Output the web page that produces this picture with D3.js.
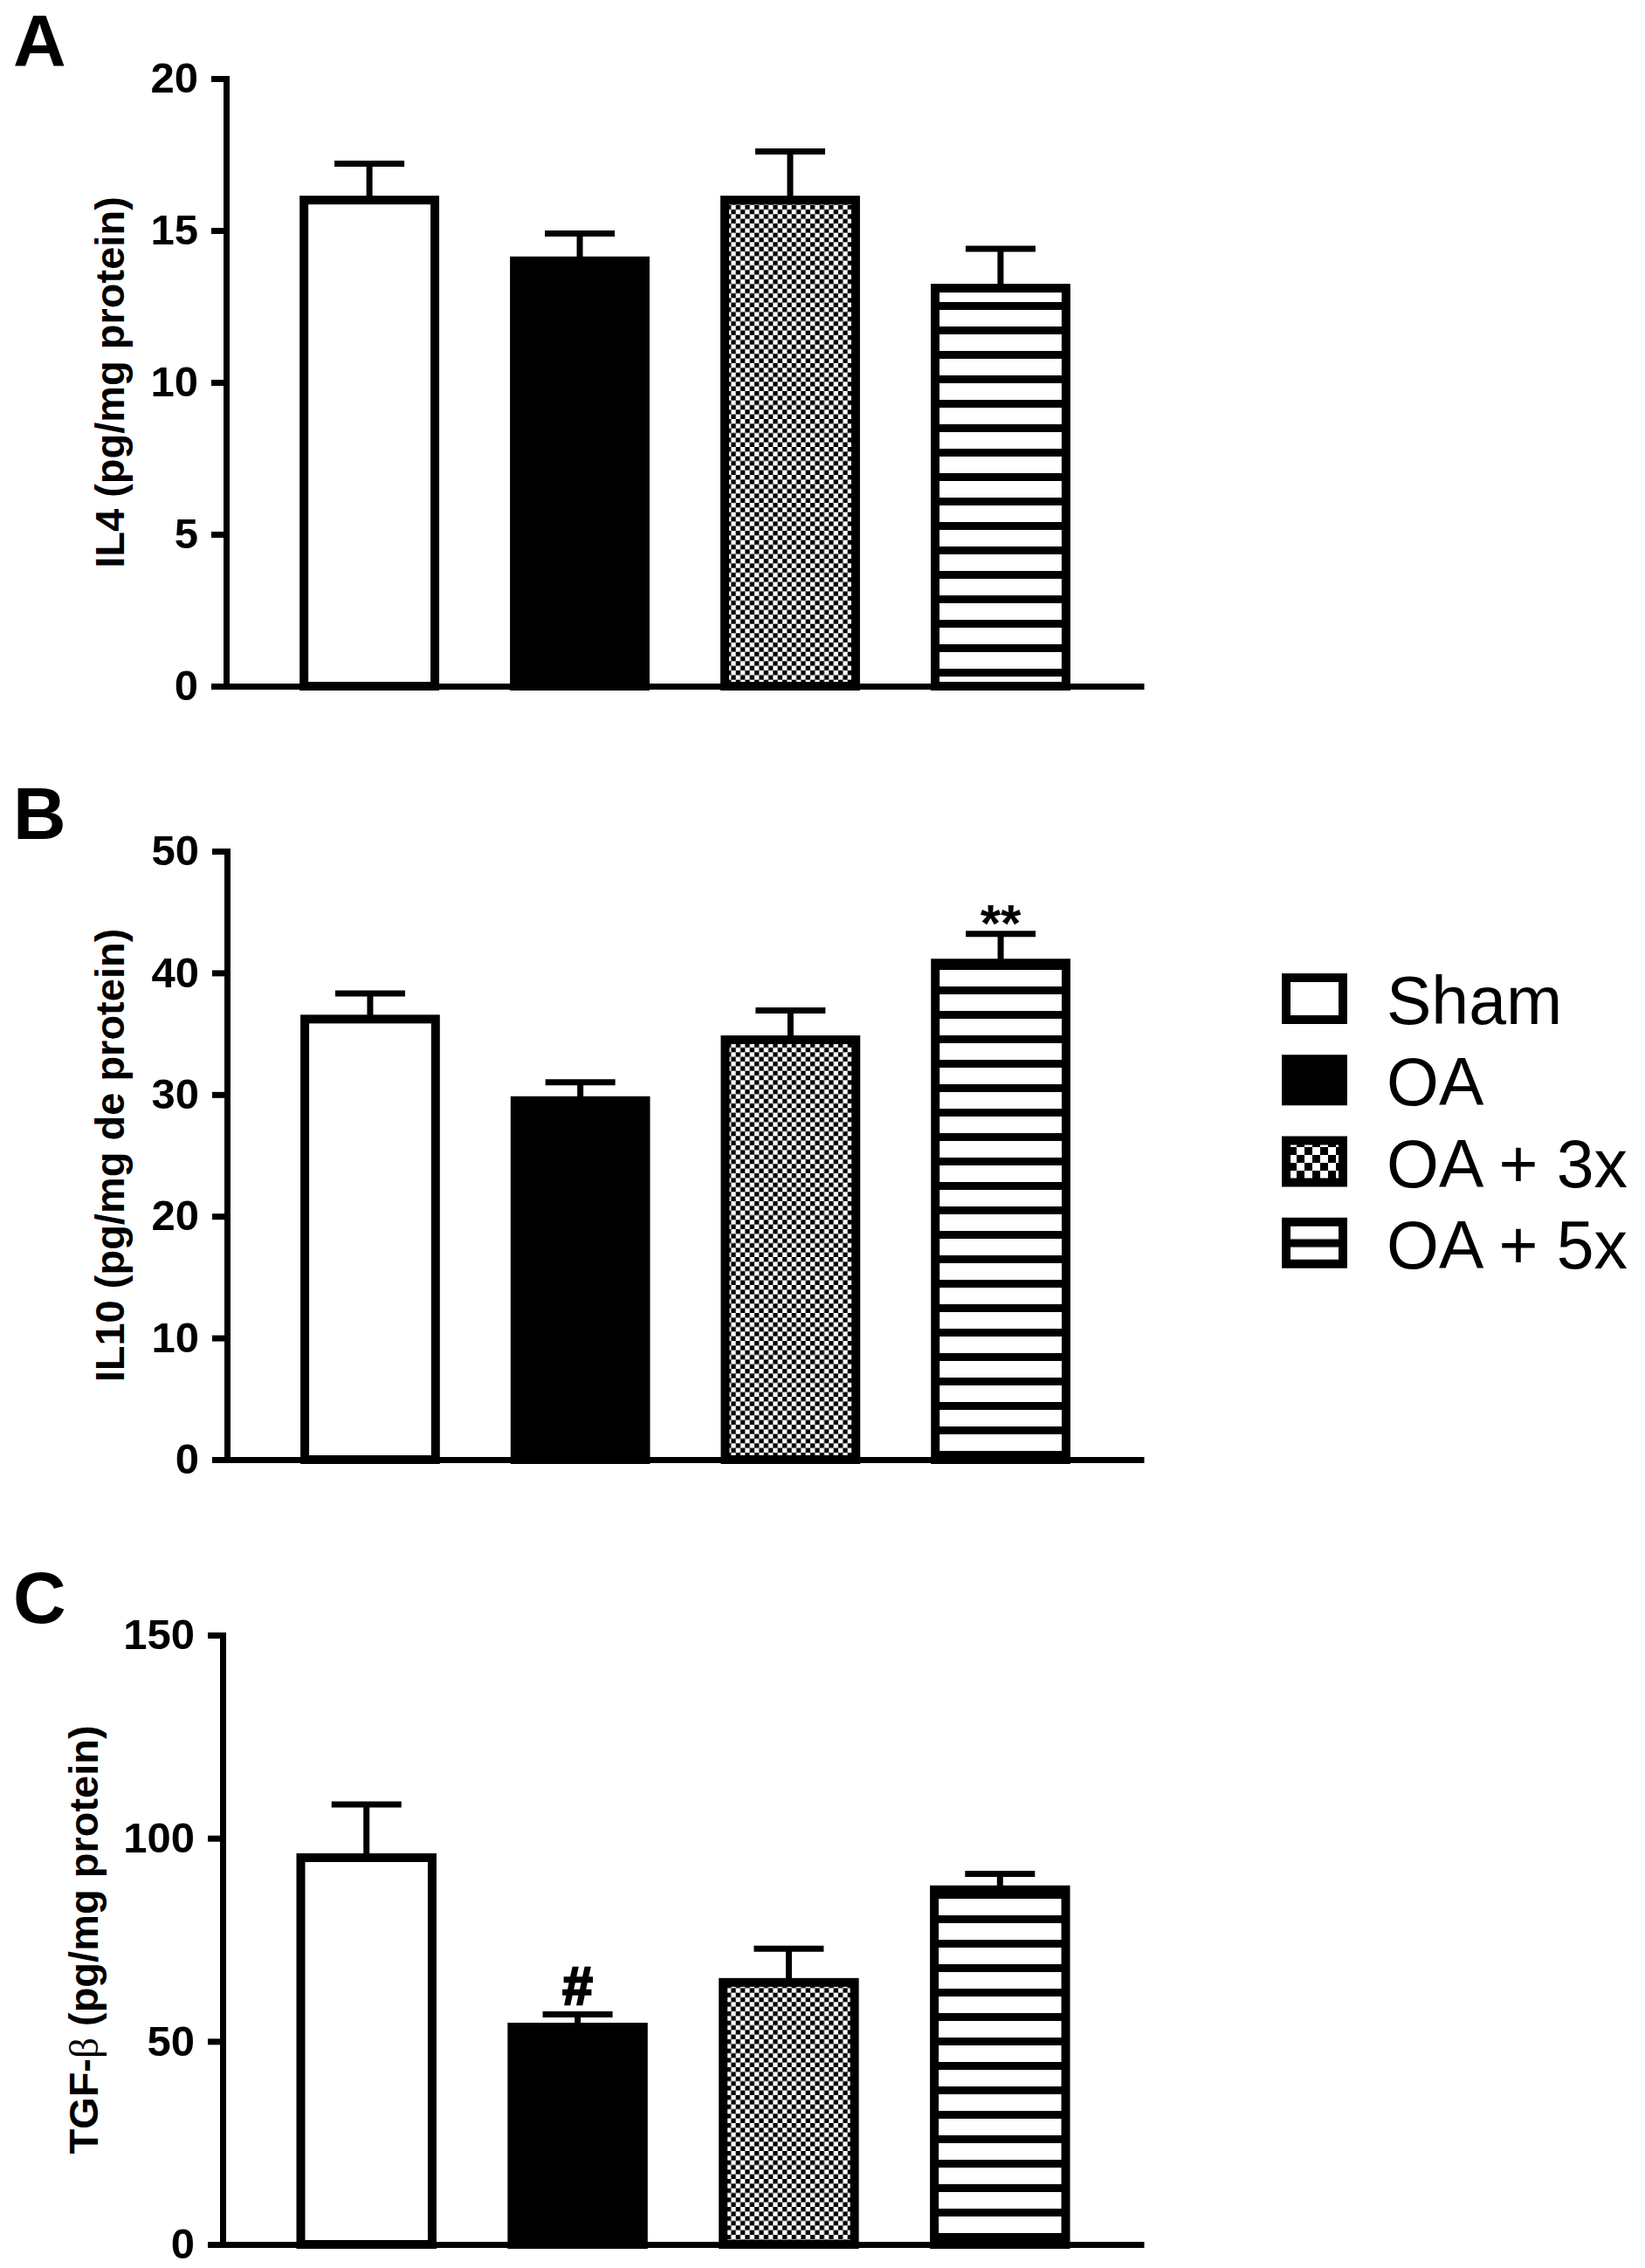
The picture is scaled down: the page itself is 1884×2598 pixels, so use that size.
<!DOCTYPE html>
<html lang="en">
<head>
    <meta charset="UTF-8">
    <title>IL4 / IL10 / TGF-beta</title>
    <script src="https://d3js.org/d3.v7.min.js"></script>
    <style>
        body {
            margin: 0;
            background-color: #ffffff;
        }
        svg text {
            font-family: "Liberation Sans", Arial, Helvetica, sans-serif;
        }
    </style>
</head>
<body>
    <div id="chart"></div>

    <script>
        // values (mean + SEM)
        const groups = ["Sham", "OA", "OA + 3x", "OA + 5x"];

        const il4 = [16.0, 14.0, 16.0, 13.1];
        const il4Sem = [1.2, 0.9, 1.6, 1.3];
        const il4Ticks = [0, 5, 10, 15, 20];

        const il10 = [36.2, 29.5, 34.5, 40.8];
        const il10Sem = [2.1, 1.5, 2.4, 2.4];
        const il10Ticks = [0, 10, 20, 30, 40, 50];
        const il10Marks = ["", "", "", "**"];

        const tgf = [95.2, 53.5, 64.5, 87.3];
        const tgfSem = [13.1, 3.1, 8.3, 3.9];
        const tgfTicks = [0, 50, 100, 150];
        const tgfMarks = ["", "#", "", ""];

        const width = 1884;
        const height = 2598;

        const svg = d3.select("#chart")
            .append("svg")
            .attr("width", width)
            .attr("height", height)
            .attr("viewBox", `0 0 ${width} ${height}`);

        svg.append("rect")
            .attr("width", width)
            .attr("height", height)
            .attr("fill", "white");

        // fill patterns
        const defs = svg.append("defs");

        function checker(id, cell) {
            const p = defs.append("pattern")
                .attr("id", id)
                .attr("patternUnits", "userSpaceOnUse")
                .attr("width", cell * 2)
                .attr("height", cell * 2);
            p.append("rect").attr("width", cell * 2).attr("height", cell * 2).attr("fill", "white");
            p.append("rect").attr("width", cell).attr("height", cell).attr("fill", "black");
            p.append("rect").attr("x", cell).attr("y", cell).attr("width", cell).attr("height", cell).attr("fill", "black");
        }
        checker("checker", 16 / 3);
        checker("legendChecker", 9);

        const stripes = defs.append("pattern")
            .attr("id", "stripes")
            .attr("patternUnits", "userSpaceOnUse")
            .attr("width", 28)
            .attr("height", 28);
        stripes.append("rect").attr("width", 28).attr("height", 28).attr("fill", "white");
        stripes.append("rect").attr("y", 10).attr("width", 28).attr("height", 9).attr("fill", "black");

        const legStripes = defs.append("pattern")
            .attr("id", "legendStripes")
            .attr("patternUnits", "objectBoundingBox")
            .attr("patternContentUnits", "objectBoundingBox")
            .attr("width", 1)
            .attr("height", 1);
        legStripes.append("rect").attr("width", 1).attr("height", 1).attr("fill", "white");
        legStripes.append("rect").attr("y", 0.41).attr("width", 1).attr("height", 0.19).attr("fill", "black");

        const barFill = d3.scaleOrdinal(groups, ["white", "black", "url(#checker)", "url(#stripes)"]);
        const legendFill = d3.scaleOrdinal(groups, ["white", "black", "url(#legendChecker)", "url(#legendStripes)"]);

        const panels = [
            {letter: "A", means: il4, sems: il4Sem, ticks: il4Ticks, marks: null,
             title: "IL4 (pg/mg protein)", axisX: 259, top: 90, bottom: 786, titleX: 142},
            {letter: "B", means: il10, sems: il10Sem, ticks: il10Ticks, marks: il10Marks,
             title: "IL10 (pg/mg de protein)", axisX: 260, top: 975, bottom: 1672, titleX: 142},
            {letter: "C", means: tgf, sems: tgfSem, ticks: tgfTicks, marks: tgfMarks,
             title: null, axisX: 255, top: 1873, bottom: 2571, titleX: 112}
        ];

        panels.forEach(p => {
            const g = svg.append("g");
            const rows = groups.map((name, i) => ({name, mean: p.means[i], sem: p.sems[i],
                                                    mark: p.marks ? p.marks[i] : ""}));

            const x = d3.scaleBand()
                .domain(groups)
                .range([p.axisX, 1310])
                .paddingInner(0.378)
                .paddingOuter(0.37);

            const y = d3.scaleLinear()
                .domain([0, d3.max(p.ticks)])
                .range([p.bottom, p.top]);

            // panel letter
            g.append("text")
                .attr("x", 15)
                .attr("y", p.top - 14)
                .attr("font-size", 84)
                .attr("font-weight", "bold")
                .text(p.letter);

            // error bars (drawn first so the bar top covers the stem)
            const err = g.append("g")
                .attr("stroke", "black")
                .attr("stroke-width", 7);
            err.selectAll(".stem")
                .data(rows)
                .join("line")
                .attr("class", "stem")
                .attr("x1", d => x(d.name) + x.bandwidth() / 2)
                .attr("x2", d => x(d.name) + x.bandwidth() / 2)
                .attr("y1", d => y(d.mean))
                .attr("y2", d => y(d.mean + d.sem));
            err.selectAll(".cap")
                .data(rows)
                .join("line")
                .attr("class", "cap")
                .attr("x1", d => x(d.name) + x.bandwidth() / 2 - 40)
                .attr("x2", d => x(d.name) + x.bandwidth() / 2 + 40)
                .attr("y1", d => y(d.mean + d.sem))
                .attr("y2", d => y(d.mean + d.sem));

            // bars
            g.selectAll(".bar")
                .data(rows)
                .join("rect")
                .attr("class", "bar")
                .attr("x", d => x(d.name))
                .attr("width", x.bandwidth())
                .attr("y", d => y(d.mean))
                .attr("height", d => y(0) - y(d.mean))
                .attr("fill", d => barFill(d.name))
                .attr("stroke", "black")
                .attr("stroke-width", 10);

            // significance marks
            g.selectAll(".mark")
                .data(rows.filter(d => d.mark))
                .join("text")
                .attr("class", "mark")
                .attr("x", d => x(d.name) + x.bandwidth() / 2)
                .attr("y", d => d.mark === "#" ? y(d.mean + d.sem) - 12 : y(d.mean + d.sem) + 8)
                .attr("text-anchor", "middle")
                .attr("font-weight", "bold")
                .attr("font-size", d => d.mark === "#" ? 62 : 60)
                .attr("stroke", d => d.mark === "#" ? "black" : "none")
                .attr("stroke-width", 2.5)
                .text(d => d.mark);

            // y axis
            const yAxis = g.append("g")
                .attr("transform", `translate(${p.axisX},0)`)
                .call(d3.axisLeft(y).tickValues(p.ticks).tickSize(17).tickPadding(15).tickSizeOuter(0));
            yAxis.attr("font-size", 49)
                .attr("font-weight", "bold")
                .attr("font-family", "'Liberation Sans', Arial, sans-serif");
            yAxis.select(".domain")
                .attr("stroke-width", 7)
                .attr("stroke-linecap", "square");
            yAxis.selectAll(".tick line").attr("stroke-width", 7);
            yAxis.selectAll(".tick text").attr("fill", "black");

            // x axis (baseline only)
            const xAxis = g.append("g")
                .attr("transform", `translate(0,${p.bottom})`)
                .call(d3.axisBottom(x).tickSize(0).tickSizeOuter(0).tickFormat(() => ""));
            xAxis.select(".domain").attr("stroke-width", 7);

            // y axis title
            const title = g.append("text")
                .attr("transform", `translate(${p.titleX},${(p.top + p.bottom) / 2}) rotate(-90)`)
                .attr("text-anchor", "middle")
                .attr("font-size", 47)
                .attr("font-weight", "bold");
            if (p.title) {
                title.text(p.title);
            } else {
                title.append("tspan").text("TGF-");
                title.append("tspan")
                    .attr("font-weight", "normal")
                    .attr("font-family", "'Liberation Serif', 'DejaVu Serif', serif")
                    .text("β");
                title.append("tspan").text(" (pg/mg protein)");
            }
        });

        // legend
        const legendY = d3.scaleBand()
            .domain(groups)
            .range([1115, 1488])
            .padding(0);

        const legend = svg.append("g");
        legend.selectAll(".swatch")
            .data(groups)
            .join("rect")
            .attr("class", "swatch")
            .attr("x", 1473)
            .attr("y", d => legendY(d) + 5)
            .attr("width", 65)
            .attr("height", 48)
            .attr("fill", d => legendFill(d))
            .attr("stroke", "black")
            .attr("stroke-width", 10);
        legend.selectAll(".label")
            .data(groups)
            .join("text")
            .attr("class", "label")
            .attr("x", 1588)
            .attr("y", d => legendY(d) + 58)
            .attr("font-size", 77)
            .text(d => d);
    </script>
</body>
</html>
